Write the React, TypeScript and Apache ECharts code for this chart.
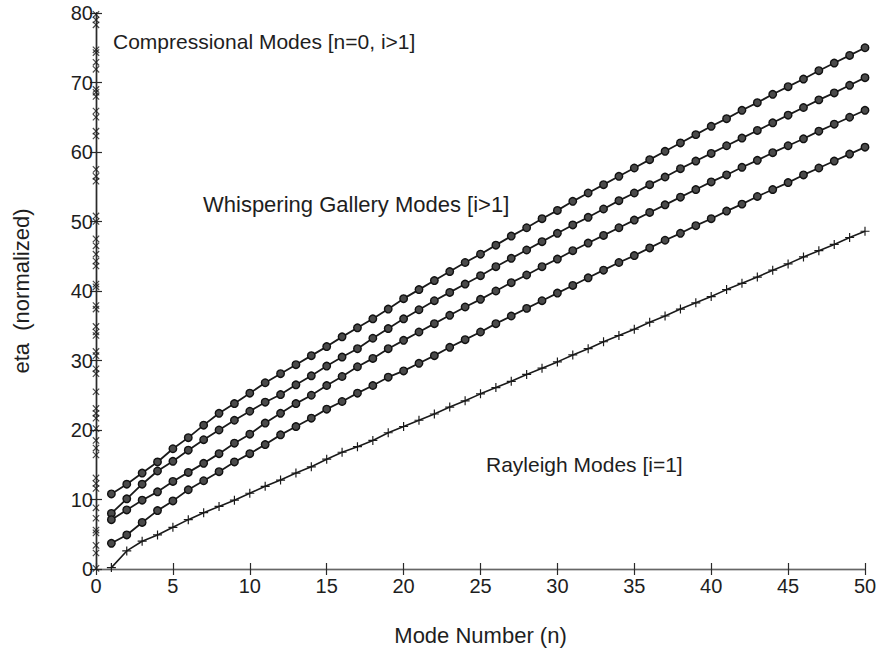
import React, { useEffect, useRef } from "react";
import * as echarts from "echarts";

const modeNumbers = [1,2,3,4,5,6,7,8,9,10,11,12,13,14,15,16,17,18,19,20,21,22,23,24,25,26,27,28,29,30,31,32,33,34,35,36,37,38,39,40,41,42,43,44,45,46,47,48,49,50];

const wgm1 = [10.8,12.2,13.8,15.4,17.3,18.9,20.7,22.4,23.8,25.3,26.8,28.1,29.4,30.7,32.0,33.4,34.7,36.0,37.4,38.9,40.2,41.5,42.8,44.1,45.3,46.6,47.9,49.1,50.4,51.6,52.9,54.1,55.3,56.5,57.7,58.9,60.1,61.3,62.5,63.7,64.8,66.0,67.1,68.3,69.4,70.5,71.7,72.8,73.9,75.0];
const wgm2 = [8.0,10.1,12.2,14.1,15.5,17.1,18.6,20.0,21.4,22.7,24.0,25.1,26.5,27.8,29.2,30.5,31.7,33.2,34.6,36.0,37.3,38.6,39.8,41.0,42.2,43.5,44.7,45.9,47.1,48.3,49.5,50.6,51.8,53.0,54.1,55.3,56.4,57.6,58.7,59.8,60.9,62.0,63.1,64.2,65.3,66.4,67.5,68.5,69.6,70.7];
const wgm3 = [7.1,8.5,9.9,11.1,12.6,13.9,15.2,16.6,18.1,19.4,21.0,22.4,23.8,25.0,26.4,27.7,29.1,30.3,31.7,32.9,34.1,35.3,36.5,37.7,38.8,40.0,41.2,42.3,43.5,44.6,45.8,46.9,48.0,49.1,50.2,51.3,52.4,53.5,54.6,55.7,56.7,57.8,58.8,59.9,60.9,61.9,63.0,64.0,65.0,66.0];
const wgm4 = [3.7,4.9,6.7,8.4,9.8,11.4,12.7,14.0,15.4,16.6,17.9,19.3,20.5,21.7,23.0,24.1,25.3,26.4,27.6,28.5,29.6,30.7,31.9,33.0,34.1,35.3,36.4,37.5,38.6,39.7,40.8,41.9,43.0,44.1,45.1,46.2,47.3,48.3,49.4,50.4,51.5,52.5,53.6,54.6,55.6,56.7,57.7,58.7,59.7,60.7];
const rayleigh = [0.2,2.6,4.0,4.9,6.0,7.1,8.1,9.0,9.9,10.9,11.9,12.8,13.8,14.7,15.8,16.8,17.6,18.5,19.6,20.5,21.4,22.3,23.3,24.2,25.2,26.1,27.0,28.0,28.9,29.8,30.8,31.7,32.7,33.6,34.5,35.5,36.4,37.4,38.3,39.2,40.2,41.1,42.0,43.0,43.9,44.9,45.8,46.7,47.7,48.6];
const compressional = [0.1,2.3,3.4,5.2,5.6,7.3,8.8,11.6,12.3,13.1,16.4,17.4,18.5,20.2,21.7,22.4,23.1,25.5,28.1,28.8,30.7,31.3,33.6,34.1,34.9,37.4,37.9,40.6,41.0,43.6,44.3,45.3,46.5,47.5,50.0,50.8,55.8,56.5,57.5,62.3,63.0,65.0,65.9,68.0,68.6,69.0,71.9,72.9,74.3,74.7,78.3,79.0,79.8];

const xTicks = { min: 0, max: 50, interval: 5 };
const yTicks = { min: 0, max: 80, interval: 10 };

const PLUS = "path://M-0.13,-1H0.13V-0.13H1V0.13H0.13V1H-0.13V0.13H-1V-0.13H-0.13Z";
const FONT = "Liberation Sans";
const INK = "#1e1e1e";

export default function App() {
  const ref = useRef<HTMLDivElement>(null);
  useEffect(() => {
    document.body.style.margin = "0";
    const chart = echarts.init(ref.current!, null, { renderer: "svg" });
    const axisLine = { show: true, lineStyle: { color: "#2a2a2a", width: 1.4 } };
    const tick = { show: true, inside: true, length: 6, lineStyle: { color: "#2a2a2a", width: 1.2 } };
    const label = { color: INK, fontFamily: FONT, fontSize: 20 };
    const wgmSeries = (data: number[], name: string) => ({
      type: "line",
      name,
      data: modeNumbers.map((n, i) => [n, data[i]]),
      symbol: "circle",
      symbolSize: 7.5,
      lineStyle: { color: "#1a1a1a", width: 1.8 },
      itemStyle: { color: "#4a4a4a", borderColor: "#111", borderWidth: 1.4 },
      clip: false,
    });
    chart.setOption({
      animation: false,
      backgroundColor: "#fff",
      grid: { left: 96, right: 17, top: 13, bottom: 80 },
      xAxis: [
        {
          type: "value", ...xTicks,
          axisLine, axisTick: tick, splitLine: { show: false },
          axisLabel: { ...label, margin: 7 },
          name: "Mode Number (n)", nameLocation: "middle", nameGap: 55,
          nameTextStyle: { color: INK, fontFamily: FONT, fontSize: 22 },
        },
        {
          type: "value", position: "top", ...xTicks,
          axisLine: { show: true, lineStyle: { color: "#666", width: 1.2 } },
          axisTick: tick, axisLabel: { show: false }, splitLine: { show: false },
        },
      ],
      yAxis: [
        {
          type: "value", ...yTicks,
          axisLine, axisTick: tick, splitLine: { show: false },
          axisLabel: { ...label, margin: 3 },
          name: "eta  (normalized)", nameLocation: "middle", nameGap: 64,
          nameTextStyle: { color: INK, fontFamily: FONT, fontSize: 22 },
        },
        {
          type: "value", position: "right", ...yTicks,
          axisLine, axisTick: tick, axisLabel: { show: false }, splitLine: { show: false },
        },
      ],
      graphic: [
        { type: "text", left: 113, top: 31, style: { text: "Compressional Modes [n=0, i>1]", fontFamily: FONT, fontSize: 21, fill: INK } },
        { type: "text", left: 203, top: 193, style: { text: "Whispering Gallery Modes [i>1]", fontFamily: FONT, fontSize: 22, fill: INK } },
        { type: "text", left: 486, top: 454, style: { text: "Rayleigh Modes [i=1]", fontFamily: FONT, fontSize: 21, fill: INK } },
      ],
      series: [
        wgmSeries(wgm1, "wgm1"),
        wgmSeries(wgm2, "wgm2"),
        wgmSeries(wgm3, "wgm3"),
        wgmSeries(wgm4, "wgm4"),
        {
          type: "line",
          name: "rayleigh",
          data: modeNumbers.map((n, i) => [n, rayleigh[i]]),
          symbol: PLUS,
          symbolSize: 9,
          lineStyle: { color: "#1a1a1a", width: 1.6 },
          itemStyle: { color: "#1a1a1a" },
          clip: false,
        },
        {
          type: "scatter",
          name: "compressional",
          data: compressional.map((v) => [0, v]),
          symbol: PLUS,
          symbolRotate: 45,
          symbolSize: 9,
          itemStyle: { color: "#1a1a1a" },
          clip: false,
          z: 5,
        },
      ],
    });
    return () => chart.dispose();
  }, []);
  return <div ref={ref} style={{ width: 882, height: 651 }} />;
}
